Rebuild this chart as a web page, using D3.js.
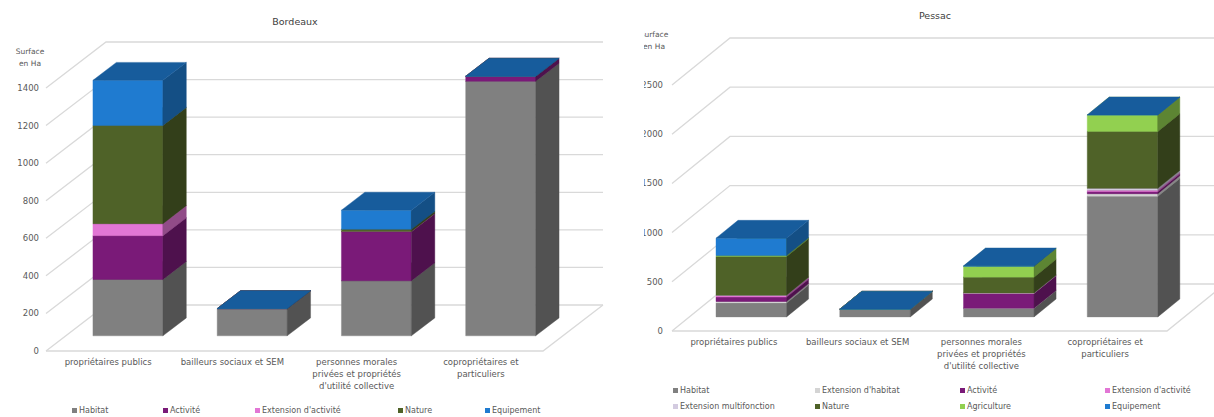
<!DOCTYPE html>
<html>
<head>
<meta charset="utf-8">
<script src="https://cdn.jsdelivr.net/npm/d3@7"></script>
<style>
  body { margin: 0; background: #fff; }
  text { font-family: "DejaVu Sans", sans-serif; fill: #595959; }
</style>
</head>
<body>
<svg id="chart" width="1214" height="417"></svg>
<script>
// Categories (wrapped as they appear under the floor)
const categories = ["propriétaires publics", "bailleurs sociaux et SEM",
  "personnes morales privées et propriétés d'utilité collective", "copropriétaires et particuliers"];
const categoryLines = [
  ["propriétaires publics"],
  ["bailleurs sociaux et SEM"],
  ["personnes morales", "privées et propriétés", "d'utilité collective"],
  ["copropriétaires et", "particuliers"]
];

// Bordeaux (surface en ha)
const bdxSeries = ["Habitat", "Activité", "Extension d'activité", "Nature", "Equipement"];
const bdxHabitat = [300, 145, 293, 1355];
const bdxActivite = [233, 0, 262, 27];
const bdxExtActivite = [64, 0, 0, 0];
const bdxNature = [523, 0, 12, 0];
const bdxEquipement = [240, 0, 102, 0];
const bdxTicks = [0, 200, 400, 600, 800, 1000, 1200, 1400];

// Pessac (surface en ha)
const pesSeries = ["Habitat", "Extension d'habitat", "Activité", "Extension d'activité",
  "Extension multifonction", "Nature", "Agriculture", "Equipement"];
const pesHabitat = [142, 78, 88, 1225];
const pesExtHabitat = [15, 0, 0, 27];
const pesActivite = [44, 0, 149, 20];
const pesExtActivite = [20, 0, 5, 15];
const pesExtMulti = [0, 0, 0, 20];
const pesNature = [392, 0, 162, 577];
const pesAgriculture = [10, 0, 110, 169];
const pesEquipement = [177, 0, 5, 0];
const pesTicks = [0, 500, 1000, 1500, 2000, 2500];

const colors = {
  "Habitat": "#808080",
  "Extension d'habitat": "#d4d4d4",
  "Activité": "#7a1a78",
  "Extension d'activité": "#e276d5",
  "Extension multifonction": "#d3cbe0",
  "Nature": "#4f6228",
  "Agriculture": "#92d050",
  "Equipement": "#1f7bd0"
};

const svg = d3.select("#chart");

function draw3d(opt) {
  const g = svg.append("g");
  if (opt.clipX != null) {
    const id = "clip" + opt.title;
    svg.append("clipPath").attr("id", id)
      .append("rect").attr("x", opt.clipX).attr("y", 0).attr("width", 1214 - opt.clipX).attr("height", 417);
    g.attr("clip-path", `url(#${id})`);
  }

  const y = d3.scaleLinear().domain([0, opt.yMax]).range([opt.y0, opt.yTop]);
  const slot = d3.scaleBand().domain(categories).range([opt.x0, opt.x1]);
  const band = d3.scaleBand().domain(categories).range([opt.x0, opt.x1])
    .paddingInner(opt.pad).paddingOuter(opt.pad / 2);
  const [dx, dy] = opt.depth;
  const P = (x, v, f) => [x + f * dx, y(v) + f * dy];

  // walls: diagonal + back gridlines
  const grid = g.append("g").attr("fill", "none").attr("stroke", "#d9d9d9").attr("stroke-width", 1.3);
  grid.selectAll("path.grid").data(opt.ticks).join("path")
    .attr("d", v => d3.line()([P(opt.x0, v, 0), P(opt.x0, v, 1), P(opt.x1, v, 1)]));
  // floor front and right edges
  grid.append("path")
    .attr("d", d3.line()([P(opt.x0, 0, 0), P(opt.x1, 0, 0), P(opt.x1, 0, 1)]));

  // tick labels
  g.append("g").selectAll("text").data(opt.ticks).join("text")
    .attr("x", opt.labelX).attr("y", v => y(v) + 3)
    .attr("text-anchor", "end").attr("font-size", 8.5)
    .text(v => v);

  g.append("text").attr("x", opt.labelX - 9).attr("y", opt.unitY)
    .attr("text-anchor", "middle").attr("font-size", 7.5)
    .selectAll("tspan").data(["Surface", "en Ha"]).join("tspan")
    .attr("x", opt.labelX - 9).attr("dy", (d, i) => i ? 12 : 0).text(d => d);

  // stacked 3D bars
  const rows = categories.map((c, i) => {
    const r = { cat: c };
    opt.series.forEach((s, k) => r[s] = opt.values[k][i]);
    return r;
  });
  const stacked = d3.stack().keys(opt.series)(rows);
  const [f1, f2] = opt.barDepth;

  categories.forEach((c, i) => {
    const a = band(c), b = a + band.bandwidth();
    const bar = g.append("g");
    stacked.forEach(layer => {
      const [v0, v1] = layer[i];
      const col = d3.color(colors[layer.key]);
      const faces = [
        { pts: [P(a, v0, f1), P(b, v0, f1), P(b, v1, f1), P(a, v1, f1)], fill: col },
        { pts: [P(b, v0, f1), P(b, v0, f2), P(b, v1, f2), P(b, v1, f1)], fill: col.darker(1.25) },
        { pts: [P(a, v1, f1), P(b, v1, f1), P(b, v1, f2), P(a, v1, f2)], fill: col.darker(0.8) }
      ];
      bar.selectAll(null).data(faces).join("path")
        .attr("d", d => "M" + d.pts.join("L") + "Z")
        .attr("fill", d => d.fill)
        .attr("stroke", d => d.fill).attr("stroke-width", 0.4);
    });
  });

  // category labels
  const lab = g.append("g").selectAll("text").data(categories).join("text")
    .attr("text-anchor", "middle").attr("font-size", 8.5);
  lab.selectAll("tspan").data((c, i) => categoryLines[i].map(t => ({ t, c }))).join("tspan")
    .attr("x", d => slot(d.c) + slot.bandwidth() / 2)
    .attr("y", (d, j) => opt.y0 + 14 + j * 12)
    .text(d => d.t);

  // title
  g.append("text").attr("x", opt.titleX).attr("y", opt.titleY)
    .attr("text-anchor", "middle").attr("font-size", 9.5).style("fill", "#404040")
    .text(opt.title);

  // legend
  const leg = g.append("g").selectAll("g").data(opt.series).join("g")
    .attr("transform", (s, k) => `translate(${opt.legendPos[k][0]},${opt.legendPos[k][1]})`);
  leg.append("rect").attr("x", 0).attr("y", -5).attr("width", 5).attr("height", 5)
    .attr("fill", s => colors[s]);
  leg.append("text").attr("x", 7).attr("y", 0).attr("font-size", 8).text(s => s);
}

draw3d({
  title: "Bordeaux", titleX: 295, titleY: 25,
  series: bdxSeries,
  values: [bdxHabitat, bdxActivite, bdxExtActivite, bdxNature, bdxEquipement],
  ticks: bdxTicks, yMax: 1400, y0: 351, yTop: 88,
  x0: 46, x1: 543, depth: [60, -46], pad: 0.437, barDepth: [0.33, 0.72],
  labelX: 39, unitY: 54,
  legendPos: [[72, 413], [163, 413], [255, 413], [398, 413], [485, 413]]
});

draw3d({
  title: "Pessac", titleX: 935, titleY: 19,
  series: pesSeries,
  values: [pesHabitat, pesExtHabitat, pesActivite, pesExtActivite, pesExtMulti,
    pesNature, pesAgriculture, pesEquipement],
  ticks: pesTicks, yMax: 2500, y0: 331, yTop: 85,
  x0: 672, x1: 1167, depth: [58, -47], pad: 0.43, barDepth: [0.30, 0.68],
  labelX: 663, unitY: 37, clipX: 644,
  legendPos: [[673, 393], [815, 393], [960, 393], [1105, 393],
    [673, 409], [815, 409], [960, 409], [1105, 409]]
});
</script>
</body>
</html>
